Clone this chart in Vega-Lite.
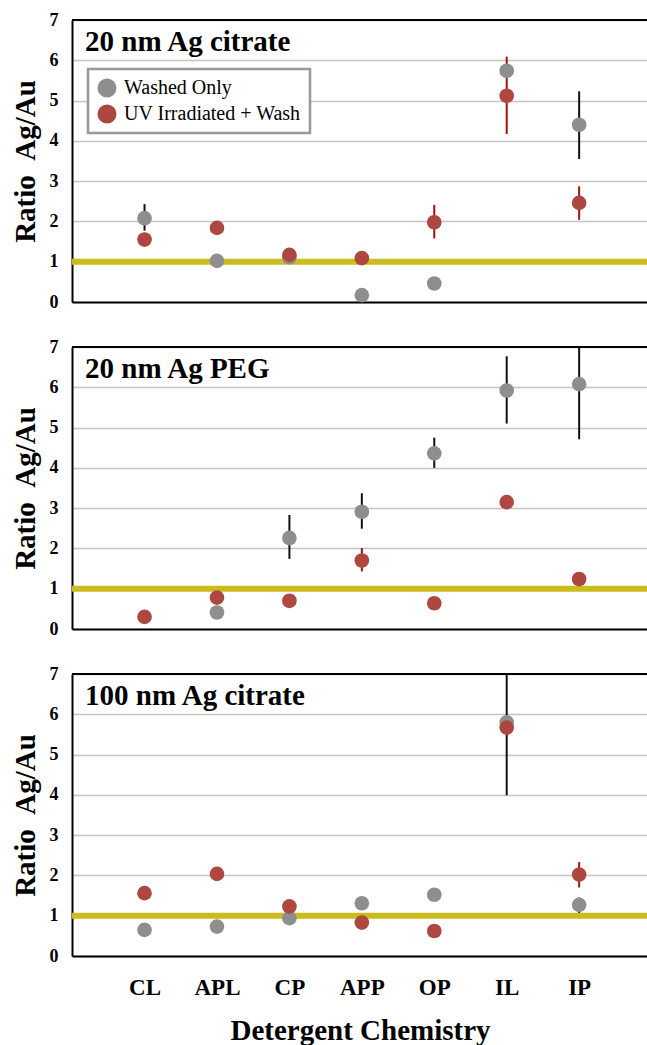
{
  "$schema": "https://vega.github.io/schema/vega-lite/v6.json",
  "padding": {"left": 11, "top": 11, "right": 0, "bottom": 0},
  "background": "#ffffff",
  "datasets": {
    "pts": [
      {"p": "20 nm Ag citrate", "chem": "CL", "series": "Washed Only", "ratio": 2.08, "lo": 1.77, "hi": 2.43},
      {"p": "20 nm Ag citrate", "chem": "APL", "series": "Washed Only", "ratio": 1.02, "lo": null, "hi": null},
      {"p": "20 nm Ag citrate", "chem": "CP", "series": "Washed Only", "ratio": 1.11, "lo": null, "hi": null},
      {"p": "20 nm Ag citrate", "chem": "APP", "series": "Washed Only", "ratio": 0.17, "lo": null, "hi": null},
      {"p": "20 nm Ag citrate", "chem": "OP", "series": "Washed Only", "ratio": 0.46, "lo": null, "hi": null},
      {"p": "20 nm Ag citrate", "chem": "IL", "series": "Washed Only", "ratio": 5.74, "lo": null, "hi": null},
      {"p": "20 nm Ag citrate", "chem": "IP", "series": "Washed Only", "ratio": 4.40, "lo": 3.55, "hi": 5.23},
      {"p": "20 nm Ag citrate", "chem": "CL", "series": "UV Irradiated + Wash", "ratio": 1.55, "lo": null, "hi": null},
      {"p": "20 nm Ag citrate", "chem": "APL", "series": "UV Irradiated + Wash", "ratio": 1.84, "lo": null, "hi": null},
      {"p": "20 nm Ag citrate", "chem": "CP", "series": "UV Irradiated + Wash", "ratio": 1.17, "lo": null, "hi": null},
      {"p": "20 nm Ag citrate", "chem": "APP", "series": "UV Irradiated + Wash", "ratio": 1.09, "lo": null, "hi": null},
      {"p": "20 nm Ag citrate", "chem": "OP", "series": "UV Irradiated + Wash", "ratio": 1.98, "lo": 1.58, "hi": 2.41},
      {"p": "20 nm Ag citrate", "chem": "IL", "series": "UV Irradiated + Wash", "ratio": 5.12, "lo": 4.17, "hi": 6.09},
      {"p": "20 nm Ag citrate", "chem": "IP", "series": "UV Irradiated + Wash", "ratio": 2.46, "lo": 2.04, "hi": 2.87},

      {"p": "20 nm Ag PEG", "chem": "APL", "series": "Washed Only", "ratio": 0.41, "lo": null, "hi": null},
      {"p": "20 nm Ag PEG", "chem": "CP", "series": "Washed Only", "ratio": 2.26, "lo": 1.74, "hi": 2.83},
      {"p": "20 nm Ag PEG", "chem": "APP", "series": "Washed Only", "ratio": 2.91, "lo": 2.49, "hi": 3.37},
      {"p": "20 nm Ag PEG", "chem": "OP", "series": "Washed Only", "ratio": 4.36, "lo": 4.00, "hi": 4.75},
      {"p": "20 nm Ag PEG", "chem": "IL", "series": "Washed Only", "ratio": 5.92, "lo": 5.10, "hi": 6.77},
      {"p": "20 nm Ag PEG", "chem": "IP", "series": "Washed Only", "ratio": 6.08, "lo": 4.71, "hi": 7.0},
      {"p": "20 nm Ag PEG", "chem": "CL", "series": "UV Irradiated + Wash", "ratio": 0.30, "lo": null, "hi": null},
      {"p": "20 nm Ag PEG", "chem": "APL", "series": "UV Irradiated + Wash", "ratio": 0.78, "lo": null, "hi": null},
      {"p": "20 nm Ag PEG", "chem": "CP", "series": "UV Irradiated + Wash", "ratio": 0.70, "lo": null, "hi": null},
      {"p": "20 nm Ag PEG", "chem": "APP", "series": "UV Irradiated + Wash", "ratio": 1.70, "lo": 1.43, "hi": 2.01},
      {"p": "20 nm Ag PEG", "chem": "OP", "series": "UV Irradiated + Wash", "ratio": 0.64, "lo": null, "hi": null},
      {"p": "20 nm Ag PEG", "chem": "IL", "series": "UV Irradiated + Wash", "ratio": 3.15, "lo": null, "hi": null},
      {"p": "20 nm Ag PEG", "chem": "IP", "series": "UV Irradiated + Wash", "ratio": 1.24, "lo": null, "hi": null},

      {"p": "100 nm Ag citrate", "chem": "CL", "series": "Washed Only", "ratio": 0.65, "lo": null, "hi": null},
      {"p": "100 nm Ag citrate", "chem": "APL", "series": "Washed Only", "ratio": 0.73, "lo": null, "hi": null},
      {"p": "100 nm Ag citrate", "chem": "CP", "series": "Washed Only", "ratio": 0.94, "lo": null, "hi": null},
      {"p": "100 nm Ag citrate", "chem": "APP", "series": "Washed Only", "ratio": 1.31, "lo": null, "hi": null},
      {"p": "100 nm Ag citrate", "chem": "OP", "series": "Washed Only", "ratio": 1.52, "lo": null, "hi": null},
      {"p": "100 nm Ag citrate", "chem": "IL", "series": "Washed Only", "ratio": 5.80, "lo": 3.99, "hi": 7.0},
      {"p": "100 nm Ag citrate", "chem": "IP", "series": "Washed Only", "ratio": 1.27, "lo": 1.07, "hi": 1.45},
      {"p": "100 nm Ag citrate", "chem": "CL", "series": "UV Irradiated + Wash", "ratio": 1.56, "lo": null, "hi": null},
      {"p": "100 nm Ag citrate", "chem": "APL", "series": "UV Irradiated + Wash", "ratio": 2.04, "lo": null, "hi": null},
      {"p": "100 nm Ag citrate", "chem": "CP", "series": "UV Irradiated + Wash", "ratio": 1.23, "lo": null, "hi": null},
      {"p": "100 nm Ag citrate", "chem": "APP", "series": "UV Irradiated + Wash", "ratio": 0.83, "lo": null, "hi": null},
      {"p": "100 nm Ag citrate", "chem": "OP", "series": "UV Irradiated + Wash", "ratio": 0.62, "lo": null, "hi": null},
      {"p": "100 nm Ag citrate", "chem": "IL", "series": "UV Irradiated + Wash", "ratio": 5.67, "lo": null, "hi": null},
      {"p": "100 nm Ag citrate", "chem": "IP", "series": "UV Irradiated + Wash", "ratio": 2.02, "lo": 1.70, "hi": 2.33}
    ],
    "refline": [{"ref": 1}],
    "frame": [{"top": 7}]
  },
  "config": {
    "view": {"stroke": null},
    "font": "Liberation Serif",
    "axis": {"labelFont": "Liberation Serif", "titleFont": "Liberation Serif", "labelColor": "#000", "titleColor": "#000", "labelFontWeight": "bold", "titleFontWeight": "bold"},
    "title": {"font": "Liberation Serif", "color": "#000"},
    "legend": {"strokeWidth": 2.5}
  },
  "spacing": 45,
  "bounds": "flush",
  "vconcat": [
    {
      "width": 576, "height": 282,
      "title": {"text": "20 nm Ag citrate", "anchor": "start", "frame": "group", "offset": -46, "dx": 13, "fontSize": 29, "fontWeight": "bold"},
      "layer": [
        {
          "data": {"name": "refline"},
          "mark": {"type": "rule", "color": "#cbbb1c", "strokeWidth": 6},
          "encoding": {"y": {"field": "ref", "type": "quantitative", "scale": {"domain": [0, 7], "nice": false}, "axis": {"values": [0,1,2,3,4,5,6,7], "grid": true, "gridColor": "#c4c4c4", "gridWidth": 1.5, "ticks": false, "domainColor": "#000", "domainWidth": 2, "labelFontSize": 18, "labelPadding": 14, "title": "Ratio \u00a0Ag/Au", "titleFontSize": 29, "titlePadding": 9}}}
        },
        {
          "data": {"name": "frame"},
          "mark": {"type": "rule", "color": "#000", "strokeWidth": 2},
          "encoding": {"y": {"field": "top", "type": "quantitative"}}
        },
        {
          "data": {"name": "pts"},
          "transform": [{"filter": "datum.p === '20 nm Ag citrate' && datum.lo != null"}],
          "mark": {"type": "rule", "strokeWidth": 2},
          "encoding": {
            "x": {"field": "chem", "type": "nominal", "sort": null, "scale": {"type": "point", "domain": ["CL","APL","CP","APP","OP","IL","IP"], "padding": 0.976, "align": 0.513}, "axis": {"labels": false, "title": null, "ticks": false, "domainColor": "#000", "domainWidth": 2}},
            "y": {"field": "lo", "type": "quantitative"},
            "y2": {"field": "hi"},
            "stroke": {"condition": {"test": "datum.series === 'Washed Only'", "value": "#111111"}, "value": "#9e1208"}
          }
        },
        {
          "data": {"name": "pts"},
          "transform": [{"filter": "datum.p === '20 nm Ag citrate'"}],
          "mark": {"type": "circle", "size": 215, "opacity": 1},
          "encoding": {
            "x": {"field": "chem", "type": "nominal", "sort": null},
            "y": {"field": "ratio", "type": "quantitative"},
            "color": {"field": "series", "type": "nominal", "scale": {"domain": ["Washed Only", "UV Irradiated + Wash"], "range": ["#8e8e8e", "#ad4740"]},
              "legend": {"orient": "none", "legendX": 16, "legendY": 49, "title": null, "symbolType": "circle", "symbolSize": 360, "symbolStrokeWidth": 0, "symbolOpacity": 1, "labelFont": "Liberation Serif", "labelFontSize": 20, "labelColor": "#000", "strokeColor": "#999999", "fillColor": "#ffffff", "padding": 9, "rowPadding": 6, "labelOffset": 7, "labelLimit": 300,
                "encode": {"symbols": {"update": {"fill": {"signal": "datum.label === 'Washed Only' ? '#8e8e8e' : '#8f1a0e'"}}}}}}
          }
        }
      ]
    },
    {
      "width": 576, "height": 282,
      "title": {"text": "20 nm Ag PEG", "anchor": "start", "frame": "group", "offset": -46, "dx": 13, "fontSize": 29, "fontWeight": "bold"},
      "layer": [
        {
          "data": {"name": "refline"},
          "mark": {"type": "rule", "color": "#cbbb1c", "strokeWidth": 6},
          "encoding": {"y": {"field": "ref", "type": "quantitative", "scale": {"domain": [0, 7], "nice": false}, "axis": {"values": [0,1,2,3,4,5,6,7], "grid": true, "gridColor": "#c4c4c4", "gridWidth": 1.5, "ticks": false, "domainColor": "#000", "domainWidth": 2, "labelFontSize": 18, "labelPadding": 14, "title": "Ratio \u00a0Ag/Au", "titleFontSize": 29, "titlePadding": 9}}}
        },
        {
          "data": {"name": "frame"},
          "mark": {"type": "rule", "color": "#000", "strokeWidth": 2},
          "encoding": {"y": {"field": "top", "type": "quantitative"}}
        },
        {
          "data": {"name": "pts"},
          "transform": [{"filter": "datum.p === '20 nm Ag PEG' && datum.lo != null"}],
          "mark": {"type": "rule", "strokeWidth": 2},
          "encoding": {
            "x": {"field": "chem", "type": "nominal", "sort": null, "scale": {"type": "point", "domain": ["CL","APL","CP","APP","OP","IL","IP"], "padding": 0.976, "align": 0.513}, "axis": {"labels": false, "title": null, "ticks": false, "domainColor": "#000", "domainWidth": 2}},
            "y": {"field": "lo", "type": "quantitative"},
            "y2": {"field": "hi"},
            "stroke": {"condition": {"test": "datum.series === 'Washed Only'", "value": "#111111"}, "value": "#9e1208"}
          }
        },
        {
          "data": {"name": "pts"},
          "transform": [{"filter": "datum.p === '20 nm Ag PEG'"}],
          "mark": {"type": "circle", "size": 215, "opacity": 1},
          "encoding": {
            "x": {"field": "chem", "type": "nominal", "sort": null},
            "y": {"field": "ratio", "type": "quantitative"},
            "color": {"field": "series", "type": "nominal", "scale": {"domain": ["Washed Only", "UV Irradiated + Wash"], "range": ["#8e8e8e", "#ad4740"]}}
          }
        }
      ]
    },
    {
      "width": 576, "height": 282,
      "title": {"text": "100 nm Ag citrate", "anchor": "start", "frame": "group", "offset": -46, "dx": 13, "fontSize": 29, "fontWeight": "bold"},
      "layer": [
        {
          "data": {"name": "refline"},
          "mark": {"type": "rule", "color": "#cbbb1c", "strokeWidth": 6},
          "encoding": {"y": {"field": "ref", "type": "quantitative", "scale": {"domain": [0, 7], "nice": false}, "axis": {"values": [0,1,2,3,4,5,6,7], "grid": true, "gridColor": "#c4c4c4", "gridWidth": 1.5, "ticks": false, "domainColor": "#000", "domainWidth": 2, "labelFontSize": 18, "labelPadding": 14, "title": "Ratio \u00a0Ag/Au", "titleFontSize": 29, "titlePadding": 9}}}
        },
        {
          "data": {"name": "frame"},
          "mark": {"type": "rule", "color": "#000", "strokeWidth": 2},
          "encoding": {"y": {"field": "top", "type": "quantitative"}}
        },
        {
          "data": {"name": "pts"},
          "transform": [{"filter": "datum.p === '100 nm Ag citrate' && datum.lo != null"}],
          "mark": {"type": "rule", "strokeWidth": 2},
          "encoding": {
            "x": {"field": "chem", "type": "nominal", "sort": null, "scale": {"type": "point", "domain": ["CL","APL","CP","APP","OP","IL","IP"], "padding": 0.976, "align": 0.513}, "axis": {"labelAngle": 0, "labelFontSize": 23, "labelPadding": 20, "ticks": false, "domainColor": "#000", "domainWidth": 2, "title": "Detergent Chemistry", "titleFontSize": 29, "titlePadding": 17}},
            "y": {"field": "lo", "type": "quantitative"},
            "y2": {"field": "hi"},
            "stroke": {"condition": {"test": "datum.series === 'Washed Only'", "value": "#111111"}, "value": "#9e1208"}
          }
        },
        {
          "data": {"name": "pts"},
          "transform": [{"filter": "datum.p === '100 nm Ag citrate'"}],
          "mark": {"type": "circle", "size": 215, "opacity": 1},
          "encoding": {
            "x": {"field": "chem", "type": "nominal", "sort": null},
            "y": {"field": "ratio", "type": "quantitative"},
            "color": {"field": "series", "type": "nominal", "scale": {"domain": ["Washed Only", "UV Irradiated + Wash"], "range": ["#8e8e8e", "#ad4740"]}}
          }
        }
      ]
    }
  ]
}
